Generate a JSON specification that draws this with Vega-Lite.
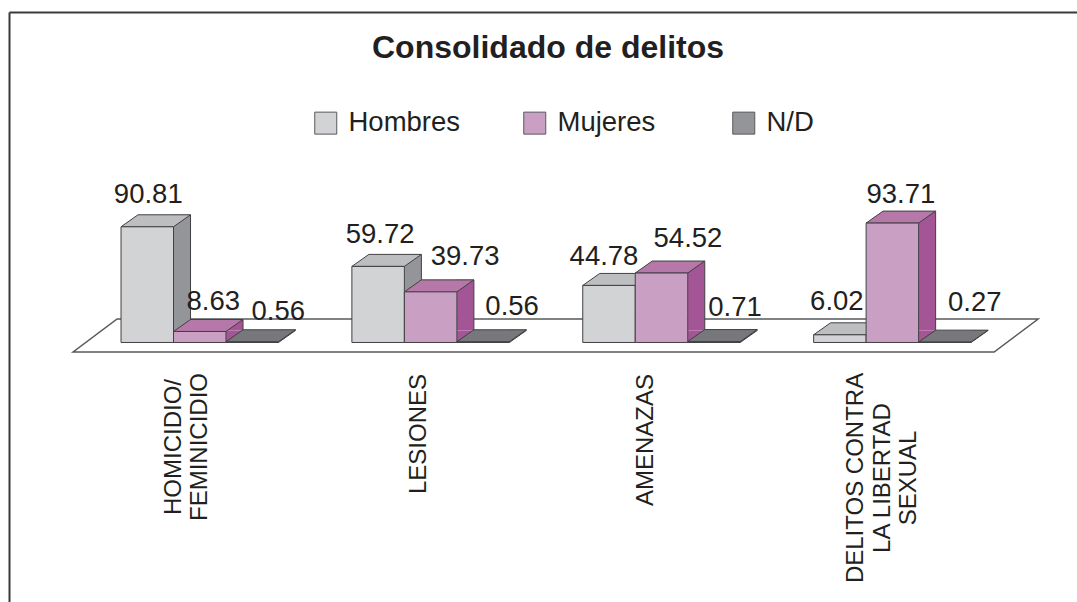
{"$schema":"https://vega.github.io/schema/vega-lite/v6.json","width":1068,"height":590,"autosize":"none","padding":{"left":9,"top":12,"right":0,"bottom":0},"background":"white","config":{"view":{"stroke":null},"font":"Liberation Sans"},
"title":{"text":"Consolidado de delitos","font":"Liberation Sans","fontSize":32,"fontWeight":"bold","color":"#231f20","anchor":"middle","offset":-53,"dx":5},
"data":{"values":[
{"category":"HOMICIDIO/|FEMINICIDIO","series":"Hombres","value":90.81},
{"category":"HOMICIDIO/|FEMINICIDIO","series":"Mujeres","value":8.63},
{"category":"HOMICIDIO/|FEMINICIDIO","series":"N/D","value":0.56},
{"category":"LESIONES","series":"Hombres","value":59.72},
{"category":"LESIONES","series":"Mujeres","value":39.73},
{"category":"LESIONES","series":"N/D","value":0.56},
{"category":"AMENAZAS","series":"Hombres","value":44.78},
{"category":"AMENAZAS","series":"Mujeres","value":54.52},
{"category":"AMENAZAS","series":"N/D","value":0.71},
{"category":"DELITOS CONTRA|LA LIBERTAD|SEXUAL","series":"Hombres","value":6.02},
{"category":"DELITOS CONTRA|LA LIBERTAD|SEXUAL","series":"Mujeres","value":93.71},
{"category":"DELITOS CONTRA|LA LIBERTAD|SEXUAL","series":"N/D","value":0.27}
]},
"encoding":{
"x":{"field":"category","type":"nominal","sort":null,"scale":{"domain":["HOMICIDIO/|FEMINICIDIO","LESIONES","AMENAZAS","DELITOS CONTRA|LA LIBERTAD|SEXUAL"],"paddingInner":0.318,"paddingOuter":0.472,"align":0.514},"axis":{"orient":"top","title":null,"labels":false,"ticks":false,"grid":false,"domain":true,"domainWidth":2,"domainColor":"#3a3a3c"}},
"xOffset":{"field":"series","type":"nominal","sort":["Hombres","Mujeres","N/D"],"scale":{"domain":["Hombres","Mujeres","N/D"],"paddingInner":0,"paddingOuter":0}},
"y":{"field":"value","type":"quantitative","scale":{"domain":[-203.7,259.4],"nice":false,"zero":false},"axis":{"title":null,"labels":false,"ticks":false,"grid":false,"domain":true,"domainWidth":2,"domainColor":"#3a3a3c"}}
},
"resolve":{"scale":{"color":"independent"}},
"layer":[
{"transform":[{"filter":"datum.value==39.73"}],"mark":{"type":"point","shape":"M-357.5,9.5L563.5,9.5L607.5,-23.5L-313.5,-23.5Z","size":4,"filled":true,"fill":"white","stroke":"#58595b","strokeWidth":1.5,"opacity":1},"encoding":{"y":{"datum":0}}},
{"transform":[{"filter":"datum.series=='Hombres'"}],"mark":{"type":"rule","stroke":"#939598","strokeWidth":17,"yOffset":-12,"y2Offset":-12},"encoding":{"xOffset":{"value":61},"y2":{"datum":0}}},
{"transform":[{"filter":"datum.series=='Mujeres'"}],"mark":{"type":"rule","stroke":"#a45595","strokeWidth":17,"yOffset":-12,"y2Offset":-12},"encoding":{"xOffset":{"value":113.5},"y2":{"datum":0}}},
{"transform":[{"filter":"datum.series=='N/D'"}],"mark":{"type":"rule","stroke":"#77787b","strokeWidth":17,"yOffset":-12,"y2Offset":-12},"encoding":{"xOffset":{"value":166},"y2":{"datum":0}}},
{"mark":{"type":"point","shape":"M26.25,0L43.25,-12L26.25,-12Z","size":4,"filled":true,"opacity":1,"strokeWidth":0},"encoding":{"y":{"datum":0},"color":{"field":"series","type":"nominal","sort":["Hombres","Mujeres","N/D"],"scale":{"range":["#939598","#a45595","#77787b"]},"legend":null}}},
{"mark":{"type":"point","shape":"M26.25,0L43.25,-12","size":4,"filled":false,"stroke":"#414042","strokeWidth":1,"opacity":1},"encoding":{"y":{"datum":0}}},
{"transform":[{"filter":"datum.series=='Hombres'"}],"mark":{"type":"rule","stroke":"#414042","strokeWidth":1,"yOffset":-12,"y2Offset":-12},"encoding":{"xOffset":{"value":69.5},"y2":{"datum":0}}},
{"transform":[{"filter":"datum.series=='Mujeres'"}],"mark":{"type":"rule","stroke":"#414042","strokeWidth":1,"yOffset":-12,"y2Offset":-12},"encoding":{"xOffset":{"value":122},"y2":{"datum":0}}},
{"transform":[{"filter":"datum.series=='N/D'"}],"mark":{"type":"rule","stroke":"#414042","strokeWidth":1,"yOffset":-12,"y2Offset":-12},"encoding":{"xOffset":{"value":174.5},"y2":{"datum":0}}},
{"mark":{"type":"point","shape":"M-26.25,0L26.25,0L43.25,-12L-9.25,-12Z","size":4,"filled":true,"stroke":"#414042","strokeWidth":1,"opacity":1},"encoding":{"color":{"field":"series","type":"nominal","sort":["Hombres","Mujeres","N/D"],"scale":{"range":["#bcbec0","#b578a8","#77787b"]},"legend":null}}},
{"mark":{"type":"bar","stroke":"#414042","strokeWidth":1},"encoding":{"color":{"field":"series","type":"nominal","sort":["Hombres","Mujeres","N/D"],"scale":{"range":["#d1d3d4","#c9a0c4","#939598"]},"legend":{"title":null,"orient":"none","direction":"horizontal","columns":3,"legendX":303,"legendY":97,"padding":0,"gridAlign":"all","columnPadding":60,"symbolType":"square","symbolSize":484,"symbolStrokeColor":"#58595b","symbolStrokeWidth":1,"labelFont":"Liberation Sans","labelFontSize":27.5,"labelColor":"#231f20","labelOffset":9,"labelLimit":300}}}},
{"transform":[{"filter":"datum.value==90.81"}],"mark":{"type":"text","fontSize":27.5,"color":"#231f20","dx":1,"dy":-32},"encoding":{"text":{"field":"value"}}},
{"transform":[{"filter":"datum.value==8.63"}],"mark":{"type":"text","fontSize":27.5,"color":"#231f20","dx":13.5,"dy":-29.5},"encoding":{"text":{"field":"value"}}},
{"transform":[{"filter":"datum.value==0.56&&datum.category!='LESIONES'"}],"mark":{"type":"text","fontSize":27.5,"color":"#231f20","dx":26,"dy":-30},"encoding":{"text":{"field":"value"}}},
{"transform":[{"filter":"datum.value==59.72"}],"mark":{"type":"text","fontSize":27.5,"color":"#231f20","dx":2,"dy":-31.5},"encoding":{"text":{"field":"value"}}},
{"transform":[{"filter":"datum.value==39.73"}],"mark":{"type":"text","fontSize":27.5,"color":"#231f20","dx":34.5,"dy":-35},"encoding":{"text":{"field":"value"}}},
{"transform":[{"filter":"datum.value==0.56&&datum.category=='LESIONES'"}],"mark":{"type":"text","fontSize":27.5,"color":"#231f20","dx":29,"dy":-35},"encoding":{"text":{"field":"value"}}},
{"transform":[{"filter":"datum.value==44.78"}],"mark":{"type":"text","fontSize":27.5,"color":"#231f20","dx":-5,"dy":-28.5},"encoding":{"text":{"field":"value"}}},
{"transform":[{"filter":"datum.value==54.52"}],"mark":{"type":"text","fontSize":27.5,"color":"#231f20","dx":26.5,"dy":-34},"encoding":{"text":{"field":"value"}}},
{"transform":[{"filter":"datum.value==0.71"}],"mark":{"type":"text","fontSize":27.5,"color":"#231f20","dx":21,"dy":-33.6},"encoding":{"text":{"field":"value"}}},
{"transform":[{"filter":"datum.value==6.02"}],"mark":{"type":"text","fontSize":27.5,"color":"#231f20","dx":-3,"dy":-33},"encoding":{"text":{"field":"value"}}},
{"transform":[{"filter":"datum.value==93.71"}],"mark":{"type":"text","fontSize":27.5,"color":"#231f20","dx":8.5,"dy":-28},"encoding":{"text":{"field":"value"}}},
{"transform":[{"filter":"datum.value==0.27"}],"mark":{"type":"text","fontSize":27.5,"color":"#231f20","dx":30,"dy":-39},"encoding":{"text":{"field":"value"}}},
{"transform":[{"filter":"datum.value==90.81"}],"mark":{"type":"text","angle":270,"align":"center","baseline":"middle","lineBreak":"|","lineHeight":26,"fontSize":24,"color":"#231f20","yOffset":104.5},"encoding":{"text":{"field":"category"},"y":{"datum":0},"xOffset":{"value":53}}},
{"transform":[{"filter":"datum.value==39.73"}],"mark":{"type":"text","angle":270,"align":"center","baseline":"middle","lineBreak":"|","lineHeight":26,"fontSize":24,"color":"#231f20","yOffset":91.5},"encoding":{"text":{"field":"category"},"y":{"datum":0},"xOffset":{"value":67}}},
{"transform":[{"filter":"datum.value==44.78"}],"mark":{"type":"text","angle":270,"align":"center","baseline":"middle","lineBreak":"|","lineHeight":26,"fontSize":24,"color":"#231f20","yOffset":97.5},"encoding":{"text":{"field":"category"},"y":{"datum":0},"xOffset":{"value":63.5}}},
{"transform":[{"filter":"datum.value==93.71"}],"mark":{"type":"text","angle":270,"align":"center","baseline":"middle","lineBreak":"|","lineHeight":26.5,"fontSize":24,"color":"#231f20","yOffset":135.5},"encoding":{"text":{"field":"category"},"y":{"datum":0},"xOffset":{"value":42.5}}}
]}
